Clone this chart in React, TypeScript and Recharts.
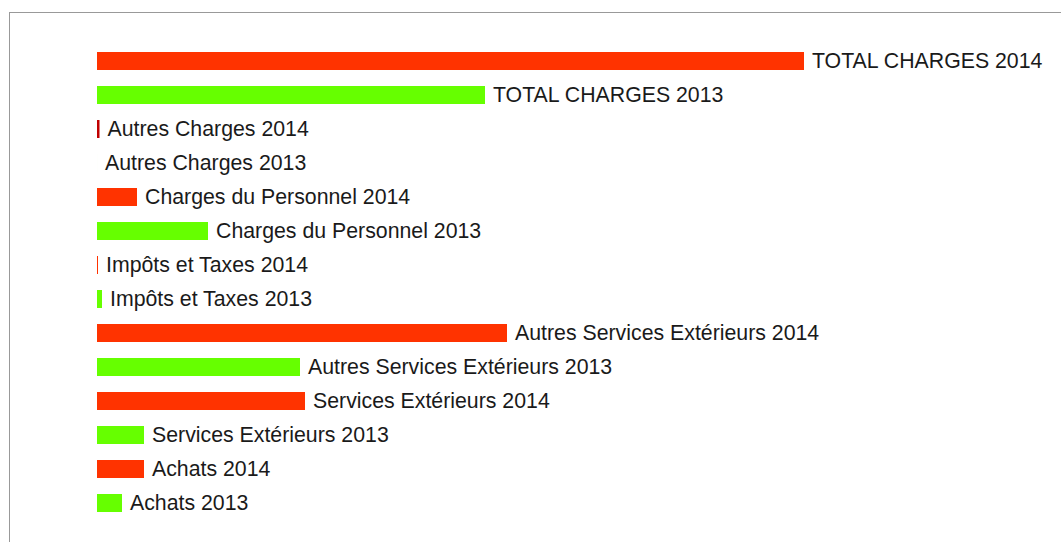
import { BarChart, Bar, XAxis, YAxis, LabelList, Cell } from "recharts";

const categories = [
  "TOTAL CHARGES 2014",
  "TOTAL CHARGES 2013",
  "Autres Charges 2014",
  "Autres Charges 2013",
  "Charges du Personnel 2014",
  "Charges du Personnel 2013",
  "Impôts et Taxes 2014",
  "Impôts et Taxes 2013",
  "Autres Services Extérieurs 2014",
  "Autres Services Extérieurs 2013",
  "Services Extérieurs 2014",
  "Services Extérieurs 2013",
  "Achats 2014",
  "Achats 2013",
];

const amounts = [707, 388, 2.5, 0, 40, 111, 1, 5, 410, 203, 208, 47, 47, 25];

const colors = [
  "#ff3300", "#66ff00", "#c00000", "#66ff00", "#ff3300", "#66ff00", "#ff3300",
  "#66ff00", "#ff3300", "#66ff00", "#ff3300", "#66ff00", "#ff3300", "#66ff00",
];

const data = categories.map((name, i) => ({ name, value: amounts[i] }));

// draw labels ourselves so zero-length bars still get theirs
function BarLabel(props: any) {
  const { x, y, width, height, value } = props;
  return (
    <text
      x={Number(x) + Number(width || 0) + 8}
      y={Number(y) + Number(height) / 2}
      dy="0.31em"
      fill="#1a1a1a"
      fontSize={21.3}
      fontFamily="'Liberation Sans', Arial, sans-serif"
    >
      {value}
    </text>
  );
}

export default function App() {
  return (
    <div style={{ position: "absolute", left: 0, top: 0, width: 1061, height: 542, background: "#fff", overflow: "hidden" }}>
      <div
        style={{
          position: "absolute",
          left: 9,
          top: 12,
          width: 1100,
          height: 600,
          borderTop: "1px solid #999",
          borderLeft: "1px solid #999",
        }}
      />
      <div style={{ position: "absolute", left: 0, top: 0 }}>
        <BarChart
          width={1061}
          height={542}
          data={data}
          layout="vertical"
          margin={{ top: 44, right: 257, bottom: 22, left: 97 }}
        >
          <XAxis type="number" domain={[0, 707]} hide />
          <YAxis type="category" dataKey="name" hide width={0} />
          <Bar
            dataKey="value"
            barSize={18}
            minPointSize={(v: any) => (Number(v) === 0 ? 0.01 : 0)}
            isAnimationActive={false}
          >
            {data.map((d, i) => (
              <Cell key={d.name} fill={colors[i]} />
            ))}
            <LabelList dataKey="name" content={BarLabel} />
          </Bar>
        </BarChart>
      </div>
    </div>
  );
}
